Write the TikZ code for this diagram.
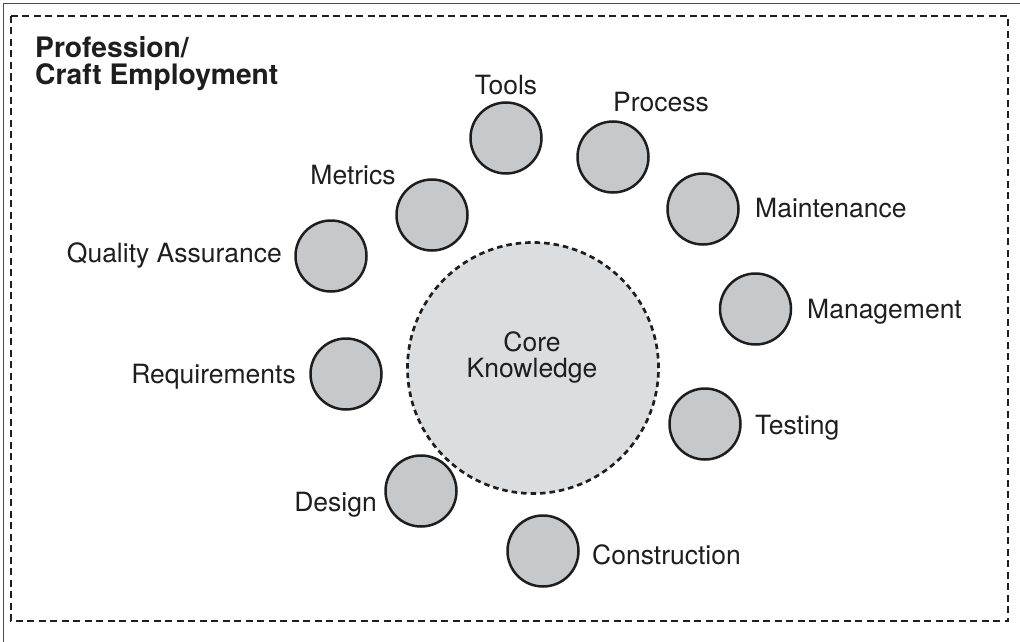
\documentclass[tikz,border=0pt]{standalone}
\usepackage{fontspec}
\setmainfont{TeX Gyre Heros}
\definecolor{smallfill}{HTML}{C7C8CA}
\definecolor{bigfill}{HTML}{DCDDDF}
\definecolor{inkc}{HTML}{1E1E1E}
\begin{document}
\begin{tikzpicture}[x=1pt,y=-1pt,
  sc/.style={circle,draw=inkc,fill=smallfill,line width=2.5pt,minimum size=71pt,inner sep=0pt},
  bigc/.style={circle,draw=inkc,fill=bigfill,line width=2.7pt,dash pattern=on 5.5pt off 4pt,minimum size=251pt,inner sep=0pt},
  lbl/.style={inner sep=0pt,font=\fontsize{26.5}{26}\selectfont,text=inkc},
  ttl/.style={inner sep=0pt,font=\fontsize{28.2}{27}\selectfont\bfseries,text=inkc,align=left},
  frame/.style={draw=inkc,line width=2.8pt,dash pattern=on 7pt off 4.5pt},
  outer/.style={draw=inkc!80,line width=1.6pt}]
\useasboundingbox (0,0) rectangle (1020,642);
% outer solid border (top and left)
\coordinate (o1) at (1020,3.5);
\coordinate (o2) at (3.5,3.5);
\coordinate (o3) at (3.5,642);
\draw[outer] (o1) -- (o2) -- (o3);
% dashed frame
\coordinate (f1) at (11,16);
\coordinate (f2) at (1008,621);
\draw[frame] (f1) rectangle (f2);
% title
\node[ttl,anchor=base west] (title) at (35,84.5) {Profession/\\Craft Employment};
% core
\node[bigc] (core) at (533,368) {};
\node[lbl,anchor=base] (core1) at (532,351) {Core};
\node[lbl,anchor=base] (core2) at (532,377) {Knowledge};
% small circles
\node[sc] (tools) at (506,138) {};
\node[sc] (process) at (613,157) {};
\node[sc] (metrics) at (432,215) {};
\node[sc] (maint) at (703,209) {};
\node[sc] (qa) at (331,256) {};
\node[sc] (mgmt) at (755.5,309) {};
\node[sc] (req) at (346,374) {};
\node[sc] (test) at (705,424) {};
\node[sc] (design) at (421,491) {};
\node[sc] (constr) at (543,551) {};
% labels
\node[lbl,anchor=base] (ltools) at (506,94) {Tools};
\node[lbl,anchor=base west] (lprocess) at (613,111) {Process};
\node[lbl,anchor=base] (lmetrics) at (353,184) {Metrics};
\node[lbl,anchor=base west] (lmaint) at (755,217) {Maintenance};
\node[lbl,anchor=base east] (lqa) at (282,262) {Quality Assurance};
\node[lbl,anchor=base west] (lmgmt) at (807,318) {Management};
\node[lbl,anchor=base east] (lreq) at (296,383) {Requirements};
\node[lbl,anchor=base west] (ltest) at (755,434) {Testing};
\node[lbl,anchor=base east] (ldesign) at (377,511) {Design};
\node[lbl,anchor=base west] (lconstr) at (592,564) {Construction};
\end{tikzpicture}
\end{document}
